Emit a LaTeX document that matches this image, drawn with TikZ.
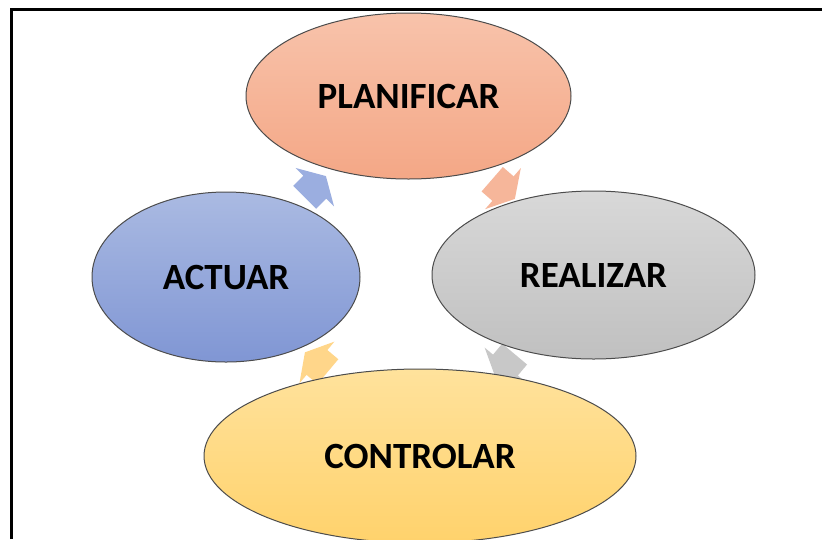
\documentclass[tikz,border=0pt]{standalone}
\usepackage{fontspec}
\setmainfont{Carlito}
\usetikzlibrary{shapes.geometric,shapes.arrows}
\begin{document}
\begin{tikzpicture}[x=1pt,y=-1pt,
  phase/.style={ellipse,draw=black!70,line width=1pt,inner sep=0pt,
    font=\fontsize{37}{42}\selectfont\bfseries},
  cyclearrow/.style={single arrow,draw=none,inner xsep=0pt,inner ysep=16pt,
    minimum width=54pt,minimum height=30pt,single arrow head extend=11pt,
    single arrow tip angle=120}]
\useasboundingbox (0,0) rectangle (822,539);
\clip (0,0) rectangle (822,539);
\fill[white] (0,0) rectangle (822,539);
% arrows
\node[cyclearrow,fill={rgb,255:red,155;green,174;blue,224},rotate=45] (a1) at (312,190) {};
\node[cyclearrow,fill={rgb,255:red,246;green,182;blue,154},rotate=-41] (a2) at (500,186) {};
\node[cyclearrow,fill={rgb,255:red,200;green,200;blue,200},rotate=-130] (a3) at (508,362) {};
\node[cyclearrow,fill={rgb,255:red,255;green,214;blue,138},rotate=140] (a4) at (320,365) {};
% phases
\node[phase,minimum width=325pt,minimum height=166pt,
  top color={rgb,255:red,248;green,195;blue,171},
  bottom color={rgb,255:red,244;green,167;blue,134}] (plan) at (408.5,96) {PLANIFICAR};
\node[phase,minimum width=268pt,minimum height=170pt,
  top color={rgb,255:red,170;green,186;blue,226},
  bottom color={rgb,255:red,128;green,150;blue,212}] (act) at (226,277) {ACTUAR};
\node[phase,minimum width=323pt,minimum height=168pt,
  top color={rgb,255:red,216;green,216;blue,216},
  bottom color={rgb,255:red,192;green,192;blue,192}] (real) at (593.5,275) {REALIZAR};
\node[phase,minimum width=432pt,minimum height=174pt,
  top color={rgb,255:red,255;green,226;blue,156},
  bottom color={rgb,255:red,255;green,210;blue,108}] (ctrl) at (420,456) {CONTROLAR};
% frame
\draw[line width=3pt] (11,539) -- (11,9) -- (822,9);
\end{tikzpicture}
\end{document}
